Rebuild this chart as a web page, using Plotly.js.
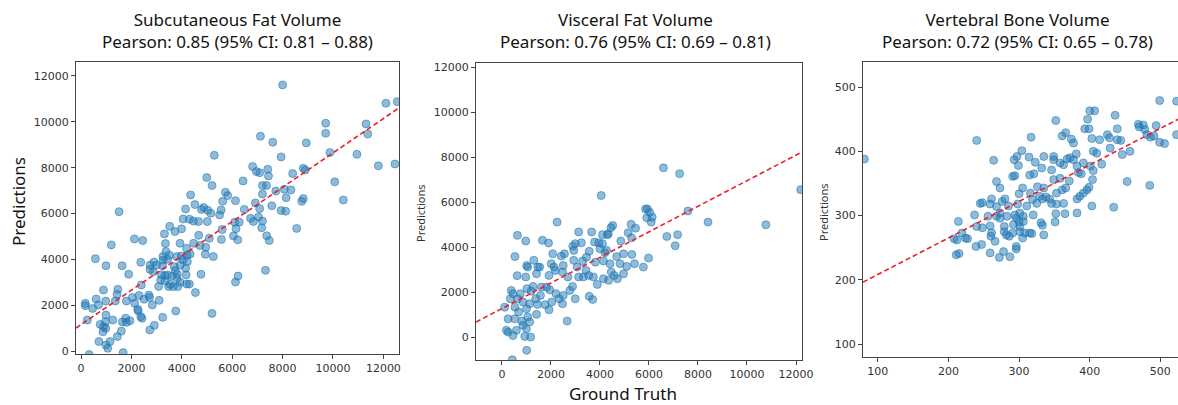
<!DOCTYPE html>
<html>
<head>
<meta charset="utf-8">
<script src="https://cdn.plot.ly/plotly-3.0.1.min.js"></script>
<style>html,body{margin:0;padding:0;background:#fff;}#chart{width:1178px;height:405px;}</style>
</head>
<body>
<div id="chart"></div>
<script>
// ---------- Data ----------
const subcutTruth = [8000,12100,12550,9710,9710,11310,11380,7120,7610,8940,9880,10950,5290,7940,11800,12460,6810,6960,7090,7410,7440,8400,8820,8900,4990,5200,6430,10070,7200,7360,4350,5730,5820,7200,7730,8070,8330,8140,10410,5620,6130,6920,7570,8760,8820,4150,4520,4780,4870,5030,5150,5560,6480,7090,7940,8120,1510,5500,5010,4050,4300,4460,4660,6730,6840,7040,7200,6100,6280,3520,3730,3990,3310,5600,6150,7170,8560,4670,5090,5570,6050,6220,7370,7470,2120,2450,1200,3350,3930,4190,4470,4720,4950,3370,3510,3250,3800,3980,4210,4330,4930,5250,570,3260,3430,4050,4220,2370,2740,2900,3000,3240,990,1630,3700,3940,2740,2870,3740,4150,7320,1890,3190,3330,3440,3610,3820,4170,4760,6230,3160,3330,3530,3810,3930,4190,4300,6130,2390,3080,3480,3660,3840,890,1460,4540,1430,2690,2720,170,170,600,690,980,1360,1800,2040,2300,2500,2830,3100,460,2130,2250,2270,2370,2420,3760,5200,990,250,1260,1770,1640,1800,1940,3240,760,970,890,2910,2730,980,870,1600,1440,710,1150,990,1060,320,1670];
const subcutPred  = [11610,10810,10880,9940,9500,9910,9470,9370,9110,9080,8660,8580,8540,8470,8080,8160,8050,7830,7780,7930,7640,7740,7970,7900,7570,7220,7420,7380,7220,7220,6810,6930,6780,6850,6980,7060,7030,6690,6590,6530,6560,6460,6340,6530,6650,6200,6390,6180,6260,6140,6010,6150,6180,6210,6130,6100,6080,5940,5650,5760,5750,5670,5650,5790,5650,5850,5670,5620,5620,5440,5210,5330,5110,5300,5340,5380,5350,5050,4920,4870,5020,4850,5030,4820,4890,4820,4630,4690,4700,4480,4700,4600,4530,4340,4180,4120,4120,4150,4180,4230,4220,4120,4030,3970,4000,3970,3900,3870,3750,3880,3750,3720,3720,3720,3680,3750,3560,3460,3510,3610,3520,3350,3330,3290,3320,3270,3350,3320,3350,3270,3100,3060,2910,3170,3000,2920,2920,3010,2880,2820,2810,2810,2810,2660,2690,2550,2470,2440,2340,2080,1980,2270,2010,2180,2180,2180,2340,2420,2260,2010,2210,1860,2080,1820,1750,1500,1430,1750,1640,1570,1350,1350,1430,1270,1250,1320,1470,1160,1280,1060,1120,920,990,840,870,630,410,410,260,120,-150,-70];

const visceralTruth = [6590,7250,4050,12190,5860,5940,6030,6130,6090,5910,7590,8410,10770,2250,5270,5450,4520,4450,5150,5290,3660,3130,4100,4850,6730,7170,7070,630,970,1650,1900,2890,3240,2990,3780,3950,4300,4100,4000,4200,4340,530,2070,2420,2550,2930,3560,4680,5300,5980,1300,1010,1050,1460,2010,2120,2930,3290,3810,4140,4410,4820,5090,5410,5770,620,970,1410,1920,2180,2470,2690,3070,3430,3540,3130,3320,4140,4460,4580,4350,4710,3890,2880,1820,1610,1270,1020,380,450,750,1190,1570,1950,2200,2500,2770,3560,3700,2990,340,640,860,1130,1380,1450,1760,2030,2330,2470,110,530,680,1000,1410,1920,250,520,810,1050,1130,2660,180,250,590,860,1000,450,930,1170,1010,420,1540,2500,3450,4270,4960,3730,4960];
const visceralPred  = [7520,7260,6290,6550,5690,5690,5540,5330,5110,5300,5600,5110,4990,5110,5010,4840,4960,4860,4640,4410,4670,4670,4550,4270,4470,4550,4060,4520,4270,4300,4180,4040,4190,4150,4220,4190,4550,4150,3920,3750,4590,3580,3700,3600,3700,3850,3810,3580,3670,3510,3410,3180,3110,3110,3260,3110,3410,3380,3330,3380,3260,3260,3140,3260,3110,2730,2670,2810,2740,2960,2890,2670,3110,2960,2740,2670,2670,2590,2890,2740,2520,2590,2340,2250,2220,2220,2250,2150,2070,1930,1930,2040,1850,2100,1930,1850,2070,1810,1670,1700,1700,1700,1560,1480,1700,1450,1440,1560,1700,1480,1330,1330,1110,1260,1010,1210,810,810,710,890,670,710,300,220,300,520,370,70,30,0,-590,-1010,3110,3180,3550,3850,3700,2670,2810];

const boneTruth = [81,499,523,523,407,400,352,436,397,393,399,439,469,476,470,478,494,481,486,491,499,506,240,317,366,361,374,377,403,414,425,428,439,444,304,314,335,349,372,381,405,410,429,446,457,264,293,297,323,349,358,368,377,391,401,417,299,332,346,363,382,384,405,404,315,321,291,294,349,358,371,388,453,485,268,273,305,326,335,361,366,396,399,391,386,382,300,316,329,333,338,343,353,261,276,280,319,245,248,259,268,285,298,311,325,346,353,363,403,434,237,256,268,273,283,294,301,306,320,352,365,382,214,273,296,300,306,351,240,248,259,279,292,301,331,333,219,261,279,282,291,301,308,315,318,335,208,212,224,227,260,266,286,305,247,239,296,296,278,259,211,215,272,287];
const bonePred  = [388,479,478,426,463,463,448,456,450,435,435,435,442,441,438,434,440,426,422,424,414,412,417,422,429,424,419,413,420,418,426,421,418,417,401,391,392,392,390,396,400,397,405,395,400,386,387,392,383,387,382,388,387,382,377,380,378,374,371,379,377,367,370,356,363,365,361,362,356,358,354,365,353,347,353,343,343,345,343,340,343,340,344,335,330,326,334,335,330,326,329,326,335,326,322,326,325,319,320,318,314,315,318,315,319,319,318,319,315,313,301,299,299,304,299,301,304,299,301,303,303,304,291,296,296,290,291,290,283,281,284,283,286,283,289,285,273,273,275,270,273,275,273,273,272,270,264,262,265,264,268,260,268,265,255,252,252,248,244,242,239,241,235,236];

// fitted regression lines (slope, intercept)
const subcutFit   = [0.749, 1154];
const visceralFit = [0.568, 1269];
const boneFit     = [0.568, 151.6];

const titles = [
  "Subcutaneous Fat Volume<br>Pearson: 0.85 (95% CI: 0.81 – 0.88)",
  "Visceral Fat Volume<br>Pearson: 0.76 (95% CI: 0.69 – 0.81)",
  "Vertebral Bone Volume<br>Pearson: 0.72 (95% CI: 0.65 – 0.78)"
];
const fatTicks  = [0,2000,4000,6000,8000,10000,12000];
const fatTickText = ["0","2000","4000","6000","8000","10000","12000"];
const boneTicks = [100,200,300,400,500];
const boneTickText = ["100","200","300","400","500"];

// ---------- Layout geometry ----------
const W = 1178, H = 405;
const panels = [
  {x:[76,399], y:[62,354], xr:[-200,12620], yr:[-130,12610], xt:fatTicks, xtt:fatTickText, yt:fatTicks, ytt:fatTickText, tx:subcutTruth, py:subcutPred, fit:subcutFit, cx:237},
  {x:[476,802], y:[63,360], xr:[-1060,12245], yr:[-1020,12180], xt:fatTicks, xtt:fatTickText, yt:fatTicks, ytt:fatTickText, tx:visceralTruth, py:visceralPred, fit:visceralFit, cx:635},
  {x:[863,1178], y:[62,357], xr:[79,525], yr:[80,539], xt:boneTicks, xtt:boneTickText, yt:boneTicks, ytt:boneTickText, tx:boneTruth, py:bonePred, fit:boneFit, cx:1017}
];

const traces = [];
const layout = {
  width: W, height: H,
  margin: {l:0, r:0, t:0, b:0},
  paper_bgcolor: '#fff', plot_bgcolor: '#fff',
  showlegend: false,
  font: {family: 'DejaVu Sans, sans-serif', color: '#333', size: 11},
  annotations: []
};

panels.forEach((p, i) => {
  const s = i === 0 ? '' : String(i + 1);
  traces.push({
    type: 'scatter', mode: 'markers',
    x: p.tx, y: p.py,
    xaxis: 'x' + s, yaxis: 'y' + s,
    marker: {size: 8, color: 'rgba(31,119,180,0.5)', line: {color: 'rgba(31,119,180,0.55)', width: 1}},
    hoverinfo: 'skip'
  });
  const lx = [p.xr[0], p.xr[1]];
  traces.push({
    type: 'scatter', mode: 'lines',
    x: lx, y: lx.map(v => p.fit[0] * v + p.fit[1]),
    xaxis: 'x' + s, yaxis: 'y' + s,
    line: {color: '#e8202a', width: 1.6, dash: '5px,3px'},
    hoverinfo: 'skip'
  });
  const axCommon = {
    showgrid: false, zeroline: false, showline: true, mirror: true,
    linecolor: '#444', linewidth: 1, ticks: 'outside', ticklen: 4, tickwidth: 1,
    tickcolor: '#444', tickfont: {size: 11, color: '#333', family: 'DejaVu Sans, sans-serif'},
    tickmode: 'array', fixedrange: true
  };
  layout['xaxis' + s] = Object.assign({}, axCommon, {
    domain: [p.x[0] / W, p.x[1] / W], range: p.xr, tickvals: p.xt, ticktext: p.xtt,
    anchor: 'y' + s
  });
  layout['yaxis' + s] = Object.assign({}, axCommon, {
    domain: [1 - p.y[1] / H, 1 - p.y[0] / H], range: p.yr, tickvals: p.yt, ticktext: p.ytt,
    anchor: 'x' + s
  });
  layout.annotations.push({
    xref: 'paper', yref: 'paper', x: p.cx / W, y: 1 - 31 / H,
    xanchor: 'center', yanchor: 'middle', showarrow: false,
    text: titles[i], font: {family: 'Noto Sans, sans-serif', size: 17, color: '#111'}
  });
});

// axis labels
layout.annotations.push({
  xref: 'paper', yref: 'paper', x: 18 / W, y: 1 - 202 / H, textangle: -90,
  xanchor: 'center', yanchor: 'middle', showarrow: false,
  text: 'Predictions', font: {family: 'Noto Sans, sans-serif', size: 17, color: '#111'}
});
layout.annotations.push({
  xref: 'paper', yref: 'paper', x: 420 / W, y: 1 - 213 / H, textangle: -90,
  xanchor: 'center', yanchor: 'middle', showarrow: false,
  text: 'Predictions', font: {family: 'Noto Sans, sans-serif', size: 11, color: '#333'}
});
layout.annotations.push({
  xref: 'paper', yref: 'paper', x: 823 / W, y: 1 - 212 / H, textangle: -90,
  xanchor: 'center', yanchor: 'middle', showarrow: false,
  text: 'Predictions', font: {family: 'Noto Sans, sans-serif', size: 11, color: '#333'}
});
layout.annotations.push({
  xref: 'paper', yref: 'paper', x: 623 / W, y: 1 - 393 / H,
  xanchor: 'center', yanchor: 'middle', showarrow: false,
  text: 'Ground Truth', font: {family: 'Noto Sans, sans-serif', size: 17, color: '#111'}
});

Plotly.newPlot('chart', traces, layout, {staticPlot: true, displayModeBar: false});
</script>
</body>
</html>
